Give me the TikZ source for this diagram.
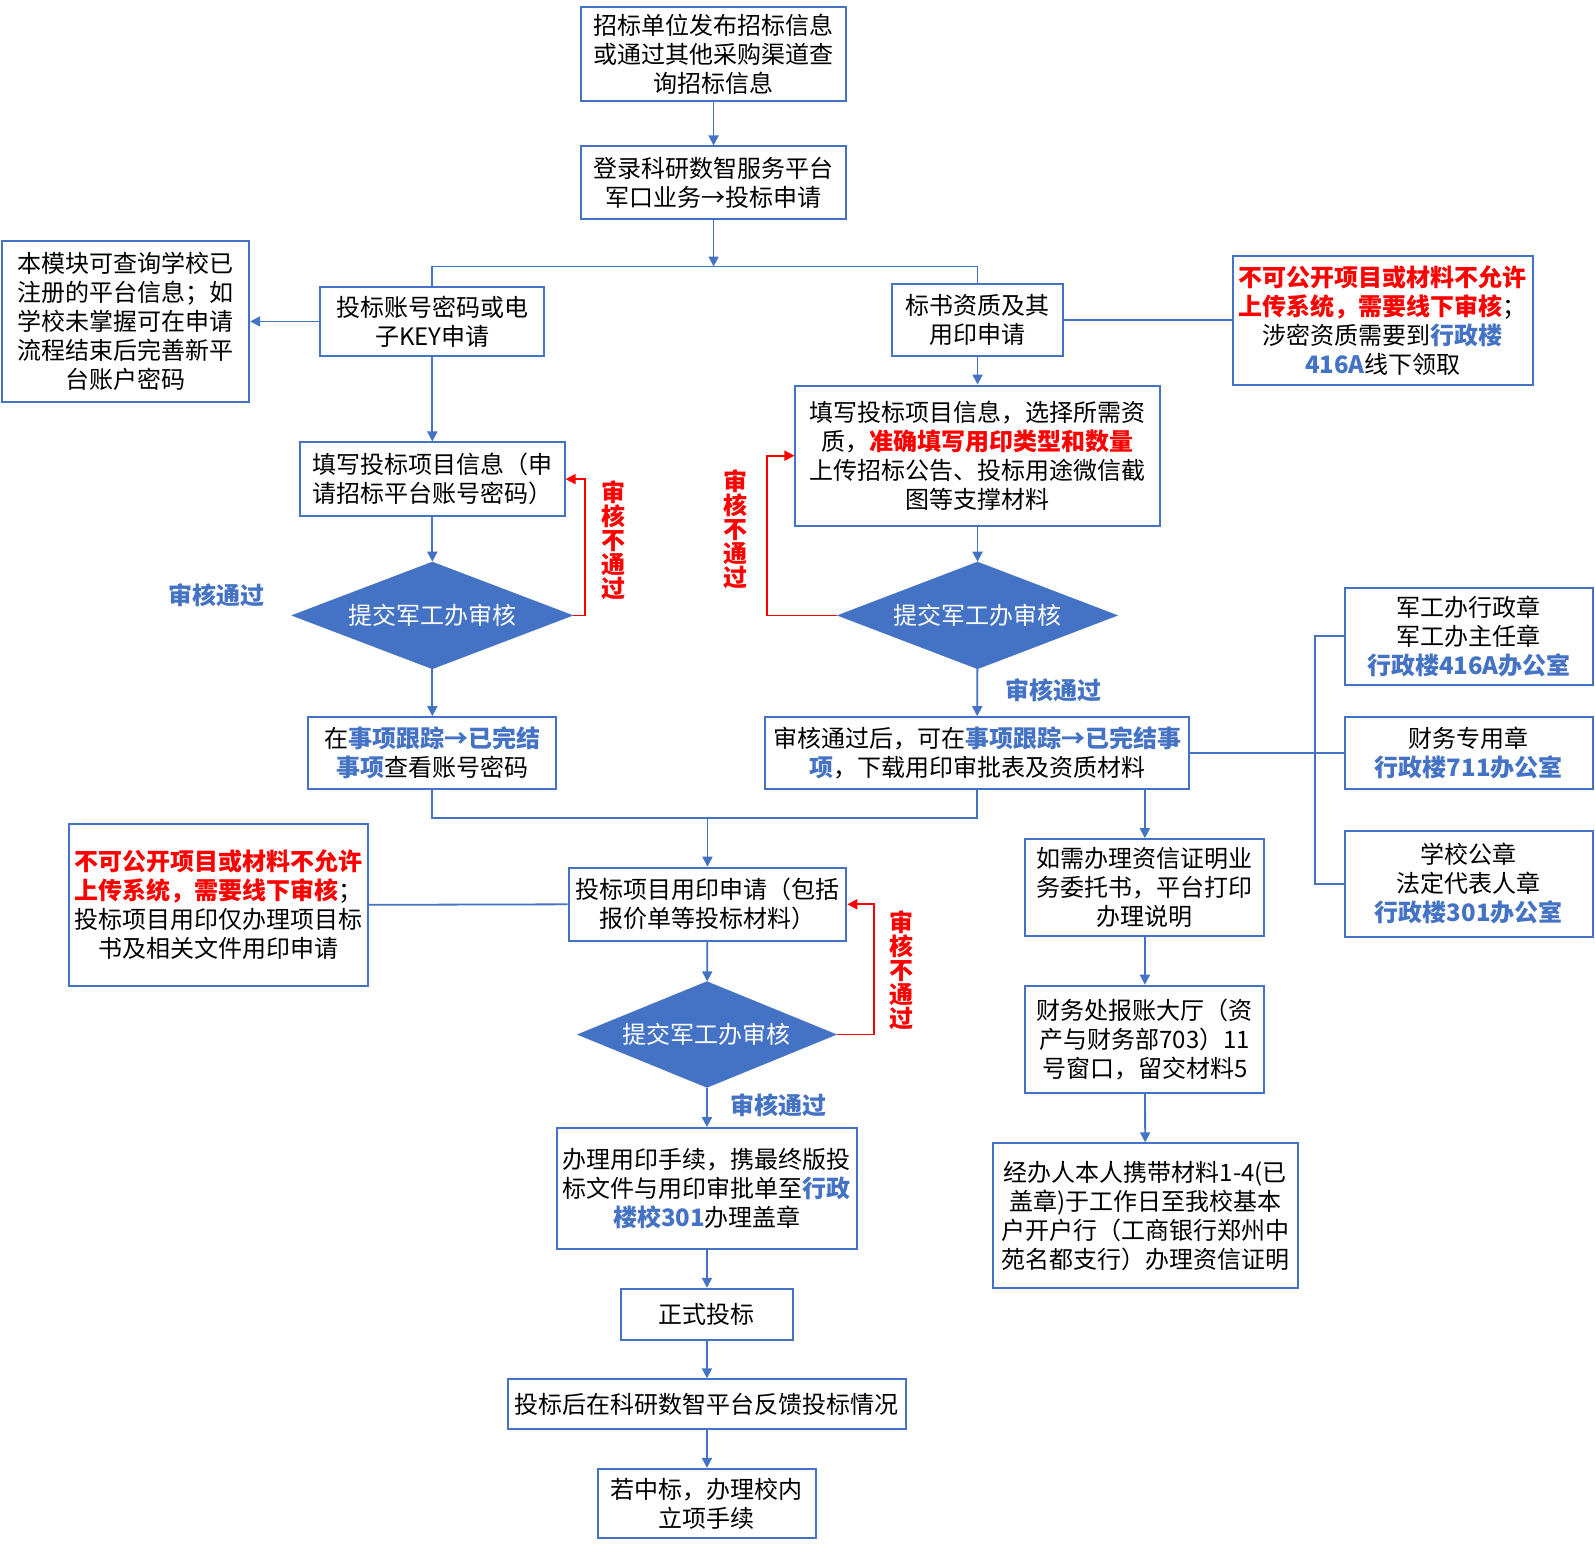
\documentclass[tikz,border=0pt]{standalone}
\usepackage{fontspec}
\setmainfont{Noto Sans CJK SC}
\usetikzlibrary{arrows.meta,shapes.geometric}
\definecolor{bblue}{HTML}{4472C4}
\definecolor{rred}{HTML}{FF0000}
\newcommand\blu[1]{{\bfseries\color{bblue}#1}}
\newcommand\redb[1]{{\bfseries\color{rred}#1}}
\begin{document}
\begin{tikzpicture}[x=1.0172pt,y=-1.0172pt,
  every node/.style={font=\fontsize{24}{29}\selectfont},
  box/.style={draw=bblue,line width=2pt,inner sep=0pt,align=center},
  sz/.style 2 args={minimum width=#1*1.0172pt,minimum height=#2*1.0172pt},
  dia/.style={diamond,aspect=2.6,fill=bblue,draw=bblue,inner sep=0pt,text=white},
  conn/.style={draw=bblue,line width=1.8pt},
  arr/.style={conn,-{Triangle[length=10pt,width=10pt]}},
  rarr/.style={draw=rred,line width=1.8pt,-{Triangle[length=10pt,width=10pt]}},
  pass/.style={text=bblue,font=\fontsize{24}{29}\selectfont\bfseries},
  fail/.style={text=rred,font=\fontsize{24}{24}\selectfont\bfseries,align=center}
]
\useasboundingbox[fill=white] (0,0) rectangle (1568,1519);

\node[box,sz={261}{92}] (b1) at (701.5,53) {招标单位发布招标信息\\或通过其他采购渠道查\\询招标信息};
\node[box,sz={261}{71}] (b2) at (701.5,179.5) {登录科研数智服务平台\\军口业务→投标申请};
\node[box,sz={220}{68}] (acct) at (425,316) {投标账号密码或电\\子KEY申请};
\node[box,sz={243}{158}] (noteL) at (123.5,316) {本模块可查询学校已\\注册的平台信息；如\\学校未掌握可在申请\\流程结束后完善新平\\台账户密码};
\node[box,sz={260}{72}] (fillL) at (425,471) {填写投标项目信息（申\\请招标平台账号密码）};
\node[dia,minimum width=281pt,minimum height=107pt] (d1) at (425,605) {提交军工办审核};
\node[box,sz={244}{71}] (l3) at (425,740.5) {在\blu{事项跟踪→已完结}\\\blu{事项}查看账号密码};
\node[box,sz={168}{71}] (r1) at (961,314.5) {标书资质及其\\用印申请};
\node[box,sz={295}{126}] (noteR) at (1359.5,315) {\redb{不可公开项目或材料不允许}\\\redb{上传系统，需要线下审核}；\\涉密资质需要到\blu{行政楼}\\\blu{416A}线下领取};
\node[box,sz={358}{138}] (r2) at (961,448) {填写投标项目信息，选择所需资\\质，\redb{准确填写用印类型和数量}\\上传招标公告、投标用途微信截\\图等支撑材料};
\node[dia,minimum width=280pt,minimum height=107pt] (d2) at (961,605) {提交军工办审核};
\node[box,sz={417}{71}] (r3) at (960.5,740.5) {审核通过后，可在\blu{事项跟踪→已完结事}\\\blu{项}，下载用印审批表及资质材料};
\node[box,sz={244}{95}] (s1) at (1444,625.5) {军工办行政章\\军工办主任章\\\blu{行政楼416A办公室}};
\node[box,sz={244}{71}] (s2) at (1444,740.5) {财务专用章\\\blu{行政楼711办公室}};
\node[box,sz={244}{104}] (s3) at (1444,869) {学校公章\\法定代表人章\\\blu{行政楼301办公室}};
\node[box,sz={235}{95}] (f1) at (1125.5,872.5) {如需办理资信证明业\\务委托书，平台打印\\办理说明};
\node[box,sz={235}{105}] (f2) at (1125.5,1021.5) {财务处报账大厅（资\\产与财务部703）11\\号窗口，留交材料5};
\node[box,sz={300}{142}] (f3) at (1126,1195) {经办人本人携带材料1-4(已\\盖章)于工作日至我校基本\\户开户行（工商银行郑州中\\苑名都支行）办理资信证明};
\node[box,sz={273}{72}] (c1) at (695.5,889) {投标项目用印申请（包括\\报价单等投标材料）};
\node[box,sz={294}{159}] (noteC) at (215,889.5) {\redb{不可公开项目或材料不允许}\\\redb{上传系统，需要线下审核}；\\投标项目用印仅办理项目标\\书及相关文件用印申请};
\node[dia,minimum width=259pt,minimum height=106pt] (d3) at (695,1017) {提交军工办审核};
\node[box,sz={294}{119}] (c2) at (695,1168.5) {办理用印手续，携最终版投\\标文件与用印审批单至\blu{行政}\\\blu{楼校301}办理盖章};
\node[box,sz={170}{50}] (c3) at (695,1292) {正式投标};
\node[box,sz={392}{49}] (c4) at (695,1380.5) {投标后在科研数智平台反馈投标情况};
\node[box,sz={214}{68}] (c5) at (695,1478) {若中标，办理校内\\立项手续};

\node[pass] (p1) at (213,585) {审核通过};
\node[pass] (p2) at (1036,679) {审核通过};
\node[pass] (p3) at (765,1087) {审核通过};
\node[fail] (n1) at (603,531) {审\\核\\不\\通\\过};
\node[fail] (n2) at (723,520) {审\\核\\不\\通\\过};
\node[fail] (n3) at (886,954) {审\\核\\不\\通\\过};

\coordinate (sp) at (702,262);
\coordinate (mg) at (695,804);
\draw[arr] (b1) -- (b2);
\draw[arr] (b2.south) -- (b2.south |- sp);
\draw[conn] (acct.north) -- (acct.north |- sp) -- (r1.north |- sp) -- (r1.north);
\draw[arr] (acct.west) -- (noteL.east |- acct.west);
\draw[arr] (acct) -- (fillL);
\draw[arr] (fillL) -- (d1);
\draw[rarr] (d1.east) -- ++(12,0) |- (fillL.east);
\draw[arr] (d1) -- (l3);
\draw[conn] (l3.south) -- (l3.south |- mg) -- (r3.south |- mg) -- (r3.south);
\draw[arr] (c1.north |- mg) -- (c1.north);

\draw[conn] (r1.east) -- (noteR.west |- r1.east);
\draw[arr] (r1) -- (r2);
\draw[arr] (r2) -- (d2);
\draw[rarr] (d2.west) -- ++(-69,0) |- (r2.west);
\draw[arr] (d2) -- (r3);
\draw[conn] (r3.east) -- (s2.west);
\draw[conn] (s1.west) -- ++(-28,0) |- (s3.west);
\draw[arr] (f1.north |- r3.south) -- (f1.north);
\draw[arr] (f1) -- (f2);
\draw[arr] (f2) -- (f3);

\draw[conn] (noteC.east) -- (c1.west);
\draw[arr] (c1) -- (d3);
\draw[rarr] (d3.east) -- ++(37,0) |- (c1.east);
\draw[arr] (d3) -- (c2);
\draw[arr] (c2) -- (c3);
\draw[arr] (c3) -- (c4);
\draw[arr] (c4) -- (c5);
\end{tikzpicture}
\end{document}
